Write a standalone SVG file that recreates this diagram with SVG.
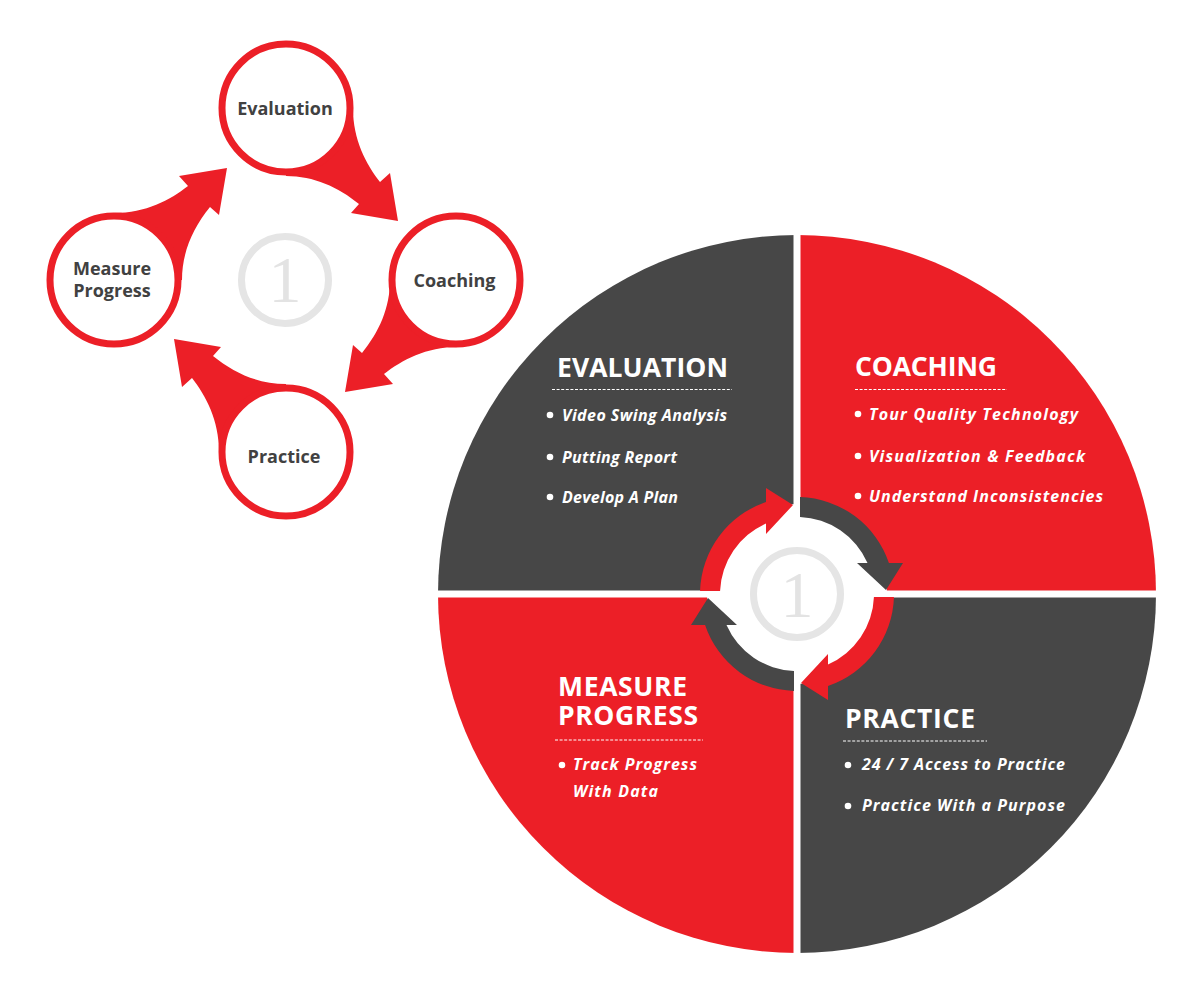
<svg xmlns="http://www.w3.org/2000/svg" width="1200" height="1000" viewBox="0 0 1200 1000">
<style>
.red{fill:#EC1F27}
.dark{fill:#474747}
.node circle.ring{fill:#fff;stroke:#EC1F27;stroke-width:7}
.lbl{font-family:"Open Sans","Liberation Sans",sans-serif;font-weight:700;font-size:18px;fill:#414141;text-anchor:middle}
.one{font-family:"Liberation Serif","DejaVu Serif",serif;font-size:66px;fill:#E3E3E3;text-anchor:middle}
.onec{fill:none;stroke:#E5E5E5;stroke-width:7}
.head{font-family:"Open Sans","Liberation Sans",sans-serif;font-weight:700;font-size:26.5px;fill:#fff}
.item{font-family:"Open Sans","Liberation Sans",sans-serif;font-weight:700;font-style:italic;font-size:16px;fill:#fff}
.dash{stroke:#fff;stroke-width:1;stroke-dasharray:3 1.6}
.bul{fill:#fff}
</style>
<defs>
<path id="larrow" d="M 67,-172 C 67,-140 80,-116 94,-98 L 104,-107 L 112,-59 L 65,-67 L 73,-76 C 52,-93 28,-104 0,-104 L 0,-172 Z"/>
<path id="carrow" d="M 3,-96.95 A 97 97 0 0 1 91.92,-31 L 106,-31 L 89,-4 L 60,-31 L 70.52,-31 A 77 77 0 0 0 3,-76.94 Z"/>
</defs>
<rect width="1200" height="1000" fill="#fff"/>

<!-- Left cycle diagram -->
<g id="left-connectors" class="red" transform="translate(286,280)">
  <use href="#larrow"/>
  <use href="#larrow" transform="rotate(90)"/>
  <use href="#larrow" transform="rotate(180)"/>
  <use href="#larrow" transform="rotate(270)"/>
</g>
<g id="left-center">
  <circle class="onec" cx="285" cy="280" r="43.5"/>
  <text class="one" x="285" y="302">1</text>
</g>
<g id="node-evaluation" class="node">
  <circle class="ring" cx="286" cy="108" r="64"/>
  <text class="lbl" x="285" y="115">Evaluation</text>
</g>
<g id="node-coaching" class="node">
  <circle class="ring" cx="456" cy="280" r="64"/>
  <text class="lbl" x="454.5" y="287">Coaching</text>
</g>
<g id="node-practice" class="node">
  <circle class="ring" cx="286" cy="452" r="64"/>
  <text class="lbl" x="284" y="463">Practice</text>
</g>
<g id="node-measure" class="node">
  <circle class="ring" cx="114" cy="280" r="64"/>
  <text class="lbl" x="112" y="275">Measure</text>
  <text class="lbl" x="112" y="297">Progress</text>
</g>

<!-- Big circle -->
<g id="quadrant-evaluation">
  <path class="dark" d="M797,594 L438,594 A359,359 0 0 1 797,235 Z"/>
  <text class="head" x="557" y="377" textLength="171" lengthAdjust="spacing">EVALUATION</text>
  <line class="dash" x1="552" y1="389.5" x2="732" y2="389.5"/>
  <circle class="bul" cx="550" cy="415" r="3.3"/>
  <text class="item" x="562" y="421" textLength="165" lengthAdjust="spacing">Video Swing Analysis</text>
  <circle class="bul" cx="550" cy="457" r="3.3"/>
  <text class="item" x="562" y="463" textLength="115" lengthAdjust="spacing">Putting Report</text>
  <circle class="bul" cx="550" cy="497" r="3.3"/>
  <text class="item" x="562" y="503" textLength="116" lengthAdjust="spacing">Develop A Plan</text>
</g>
<g id="quadrant-coaching">
  <path class="red" d="M797,594 L797,235 A359,359 0 0 1 1156,594 Z"/>
  <text class="head" x="855" y="376" textLength="142" lengthAdjust="spacing">COACHING</text>
  <line class="dash" x1="855" y1="389.5" x2="1007" y2="389.5"/>
  <circle class="bul" cx="858" cy="414" r="3.3"/>
  <text class="item" x="869" y="420" textLength="209" lengthAdjust="spacing">Tour Quality Technology</text>
  <circle class="bul" cx="858" cy="456" r="3.3"/>
  <text class="item" x="869" y="462" textLength="216" lengthAdjust="spacing">Visualization &amp; Feedback</text>
  <circle class="bul" cx="858" cy="496" r="3.3"/>
  <text class="item" x="869" y="502" textLength="234" lengthAdjust="spacing">Understand Inconsistencies</text>
</g>
<g id="quadrant-practice">
  <path class="dark" d="M797,594 L1156,594 A359,359 0 0 1 797,953 Z"/>
  <text class="head" x="845" y="728" textLength="130" lengthAdjust="spacing">PRACTICE</text>
  <line class="dash" x1="843" y1="741" x2="987" y2="741"/>
  <circle class="bul" cx="848" cy="765" r="3.3"/>
  <text class="item" x="862" y="770" textLength="203" lengthAdjust="spacing">24 / 7 Access to Practice</text>
  <circle class="bul" cx="848" cy="806" r="3.3"/>
  <text class="item" x="862" y="811" textLength="203" lengthAdjust="spacing">Practice With a Purpose</text>
</g>
<g id="quadrant-measure">
  <path class="red" d="M797,594 L797,953 A359,359 0 0 1 438,594 Z"/>
  <text class="head" x="558" y="696" textLength="129" lengthAdjust="spacing">MEASURE</text>
  <text class="head" x="558" y="725" textLength="140" lengthAdjust="spacing">PROGRESS</text>
  <line class="dash" x1="555" y1="740" x2="703" y2="740"/>
  <circle class="bul" cx="562" cy="765" r="3.3"/>
  <text class="item" x="573" y="770" textLength="124" lengthAdjust="spacing">Track Progress</text>
  <text class="item" x="573" y="797" textLength="85" lengthAdjust="spacing">With Data</text>
</g>
<g id="gaps" stroke="#fff" stroke-width="7">
  <line x1="797" y1="228" x2="797" y2="960"/>
  <line x1="431" y1="594" x2="1163" y2="594"/>
</g>
<g id="center-cycle">
  <circle cx="797" cy="594" r="90" fill="#fff"/>
  <g id="center-connectors" transform="translate(797,594)">
    <use href="#carrow" class="dark"/>
    <use href="#carrow" class="red" transform="rotate(90)"/>
    <use href="#carrow" class="dark" transform="rotate(180)"/>
    <use href="#carrow" class="red" transform="rotate(270)"/>
  </g>
  <circle class="onec" cx="797" cy="594" r="43.5"/>
  <text class="one" x="797" y="617">1</text>
</g>
</svg>
